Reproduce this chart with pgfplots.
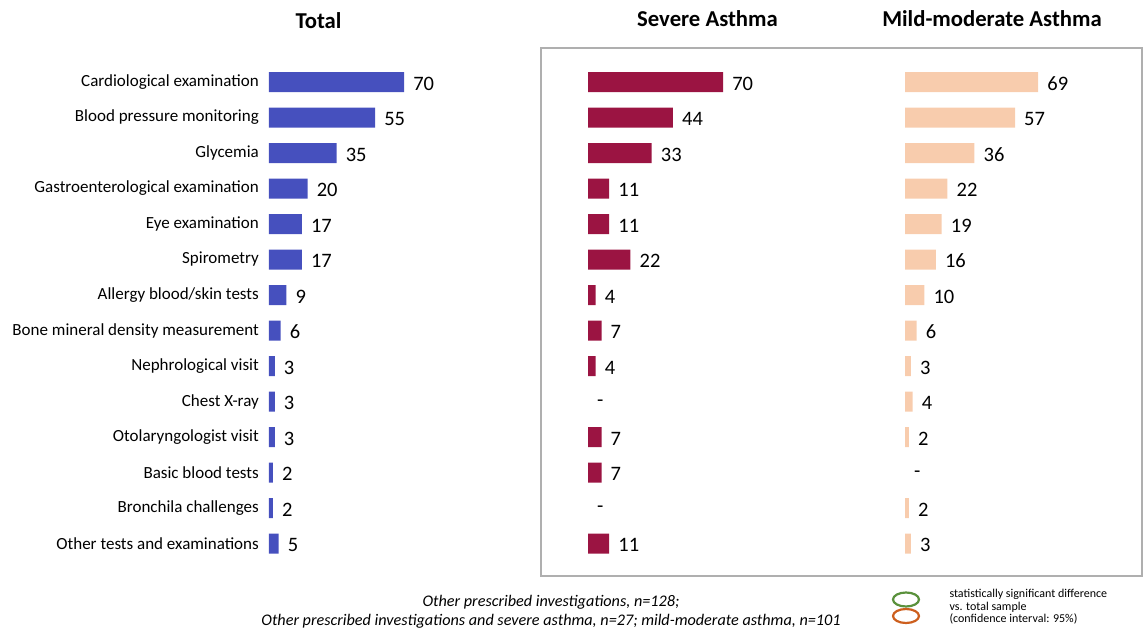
\documentclass[border=0pt]{standalone}
\usepackage{pgfplots}
\pgfplotsset{compat=1.18}
\usepackage{fontspec}
\setmainfont{Carlito}
\definecolor{cTot}{RGB}{70,80,190}
\definecolor{cSev}{RGB}{155,20,66}
\definecolor{cMild}{RGB}{248,204,173}
\definecolor{cGreen}{RGB}{90,145,60}
\definecolor{cOrange}{RGB}{205,95,30}
\definecolor{cBox}{RGB}{175,175,175}
\pgfplotsset{panel/.style={
  xbar, scale only axis, width=193pt, height=497pt,
  xmin=0, xmax=100, ymin=0.5, ymax=14.5, y dir=reverse,
  axis line style={draw=none}, xtick=\empty, ytick=\empty,
  major tick length=0pt, bar width=20pt, bar shift=0pt, clip=false,
  point meta=explicit symbolic, nodes near coords,
  nodes near coords style={anchor=west, inner sep=0pt, xshift=9pt, yshift=-1.5pt,
     font=\fontsize{20.5}{24}\selectfont, text=black},
  anchor=south west
}}
\begin{document}
\begin{tikzpicture}[x=1pt,y=1pt]
\useasboundingbox (0,0) rectangle (1143,630);
\draw[cBox, line width=1.5pt] (541,582) rectangle (1142,54);
\node[font=\bfseries\fontsize{22.7}{27}\selectfont] at (318.5,609) {Total};
\node[font=\bfseries\fontsize{22.7}{27}\selectfont] at (707.5,611) {Severe Asthma};
\node[font=\bfseries\fontsize{22.7}{27}\selectfont] at (992,611) {Mild-moderate Asthma};

\begin{axis}[panel, at={(269pt,68.75pt)},
  ytick={1,...,14},
  yticklabels={Cardiological examination, Blood pressure monitoring, Glycemia,
    Gastroenterological examination, Eye examination, Spirometry,
    Allergy blood/skin tests, Bone mineral density measurement, Nephrological visit,
    Chest X-ray, Otolaryngologist visit, Basic blood tests, Bronchila challenges,
    Other tests and examinations},
  yticklabel style={font=\fontsize{17}{20}\selectfont, inner sep=0pt, xshift=-10pt}]
\addplot[fill=cTot, draw=none] coordinates {
 (70,1) [70] (55,2) [55] (35,3) [35] (20,4) [20] (17,5) [17] (17,6) [17]
 (9,7) [9] (6,8) [6] (3,9) [3] (3,10) [3] (3,11) [3] (2,12) [2] (2,13) [2] (5,14) [5]};
\end{axis}

\begin{axis}[panel, at={(588pt,68.75pt)}]
\addplot[fill=cSev, draw=none] coordinates {
 (70,1) [70] (44,2) [44] (33,3) [33] (11,4) [11] (11,5) [11] (22,6) [22]
 (4,7) [4] (7,8) [7] (4,9) [4] (7,11) [7] (7,12) [7] (11,14) [11]};
\addplot[fill=none, draw=none] coordinates {(0,10) [-] (0,13) [-]};
\end{axis}

\begin{axis}[panel, at={(905pt,68.75pt)}]
\addplot[fill=cMild, draw=none] coordinates {
 (69,1) [69] (57,2) [57] (36,3) [36] (22,4) [22] (19,5) [19] (16,6) [16]
 (10,7) [10] (6,8) [6] (3,9) [3] (4,10) [4] (2,11) [2] (2,13) [2] (3,14) [3]};
\addplot[fill=none, draw=none] coordinates {(0,12) [-]};
\end{axis}

\node[font=\itshape\fontsize{16.2}{19}\selectfont, align=center] at (551,18.5)
  {Other prescribed investigations, n=128;\\Other prescribed investigations and severe asthma, n=27; mild-moderate asthma, n=101};
\draw[cGreen, line width=2.2pt] (906,30.5) ellipse (13 and 7);
\draw[cOrange, line width=2.2pt] (906,14) ellipse (13 and 7);
\node[font=\fontsize{12}{12.5}\selectfont, align=left, anchor=west] at (946,23)
  {statistically significant difference\\vs. total sample\\(confidence interval: 95\%)};
\end{tikzpicture}
\end{document}
